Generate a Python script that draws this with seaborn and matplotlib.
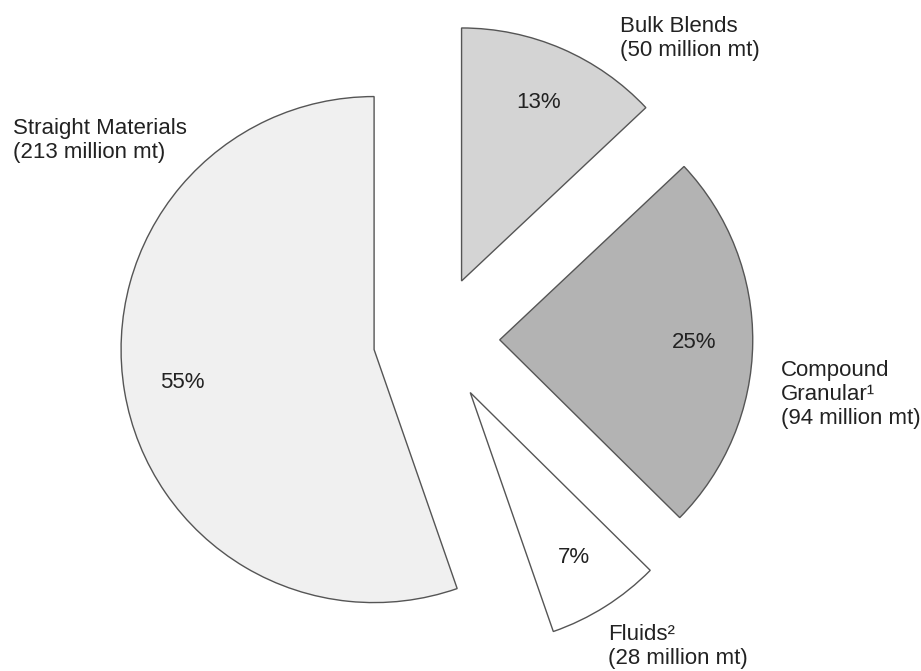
import matplotlib
matplotlib.use("Agg")
import numpy as np
import matplotlib.pyplot as plt
import seaborn as sns

# Datos (millones de toneladas) en orden antihorario desde arriba
categories = ["Straight Materials", "Fluids", "Compound Granular", "Bulk Blends"]
volumes = [213, 28, 94, 50]
pct_labels = ["55%", "7%", "25%", "13%"]
name_labels = [
    "Straight Materials\n(213 million mt)",
    "Fluids\u00b2\n(28 million mt)",
    "Compound\nGranular\u00b9\n(94 million mt)",
    "Bulk Blends\n(50 million mt)",
]
colors = ["#f0f0f0", "#ffffff", "#b3b3b3", "#d4d4d4"]

sns.set_theme(style="white")
plt.rcParams["font.family"] = ["Liberation Sans", "DejaVu Sans"]

fig = plt.figure(figsize=(9.21, 6.71), dpi=100)
ax = fig.add_axes([0, 0, 1, 1])

wedges, _ = ax.pie(
    volumes,
    colors=colors,
    startangle=90,
    counterclock=True,
    explode=[0.25] * len(volumes),
    radius=1,
    wedgeprops=dict(edgecolor="#555555", linewidth=1.0),
)
ax.set_xlim(-1.725, 1.915)
ax.set_ylim(-1.312, 1.340)
ax.set_aspect("auto")
ax.axis("off")

# Porcentajes dentro de cada porción
for w, pct in zip(wedges, pct_labels):
    cx, cy = w.center
    mid = np.deg2rad((w.theta1 + w.theta2) / 2)
    ax.text(cx + 0.77 * w.r * np.cos(mid), cy + 0.77 * w.r * np.sin(mid), pct,
            ha="center", va="center", fontsize=16, color="#222222")

# Etiquetas exteriores (posición en píxeles de la figura)
name_pos = [(13, 118), (608, 624), (781, 360), (620, 16)]
W, H = 921, 671
for (px, py), txt in zip(name_pos, name_labels):
    fig.text(px / W, 1 - py / H, txt, ha="left", va="top", fontsize=16,
             color="#222222", linespacing=1.2)

fig.savefig("out.png", dpi=100)
